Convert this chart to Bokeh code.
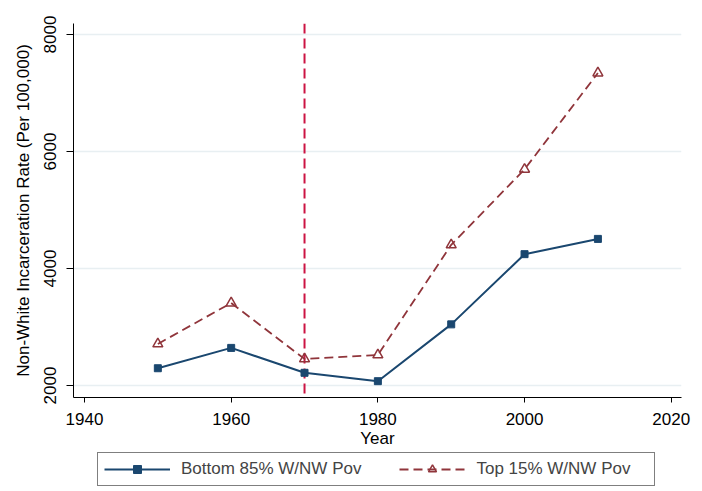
import math
from bokeh.plotting import figure
from bokeh.layouts import column
from bokeh.models import Range1d, FixedTicker, Span, Legend, LegendItem
from bokeh.embed import file_html
from bokeh.resources import INLINE

years = [1950, 1960, 1970, 1980, 1990, 2000, 2010]
bottom85 = [2295, 2643, 2217, 2074, 3045, 4245, 4506]
top15 = [2711, 3410, 2455, 2523, 4404, 5695, 7342]
x_ticks = [1940, 1960, 1980, 2000, 2020]
y_ticks = [2000, 4000, 6000, 8000]
policy_year = 1970
series_labels = ["Bottom 85% W/NW Pov", "Top 15% W/NW Pov"]

FONT = "Liberation Sans"
FS = "17px"
BLUE = "#1a476f"
RED = "#90353b"
RED_DASH = "9 5"

p = figure(frame_width=608, frame_height=374,
           x_range=Range1d(1938.5, 2021.4), y_range=Range1d(1795, 8188),
           output_backend="svg", toolbar_location=None,
           min_border_left=73, min_border_right=21,
           min_border_top=23, min_border_bottom=54)
p.outline_line_color = None
p.background_fill_color = "white"
p.border_fill_color = "white"

p.xgrid.visible = False
p.ygrid.grid_line_color = "#e8eff2"
p.ygrid.grid_line_width = 1.5
p.ygrid.ticker = FixedTicker(ticks=y_ticks)

for ax in (p.xaxis[0], p.yaxis[0]):
    ax.axis_line_color = "black"
    ax.axis_line_width = 1
    ax.major_tick_line_color = "black"
    ax.major_tick_in = 0
    ax.minor_tick_line_color = None
    ax.major_label_text_font = FONT
    ax.major_label_text_font_size = FS
    ax.major_label_text_color = "black"
    ax.axis_label_text_font = FONT
    ax.axis_label_text_font_size = FS
    ax.axis_label_text_font_style = "normal"
    ax.axis_label_text_color = "black"

p.xaxis.ticker = FixedTicker(ticks=x_ticks)
p.xaxis.major_tick_out = 5
p.xaxis.major_label_standoff = 10
p.xaxis.axis_label = "Year"
p.xaxis.axis_label_standoff = 1

p.yaxis.ticker = FixedTicker(ticks=y_ticks)
p.yaxis.major_tick_out = 7
p.yaxis.major_label_orientation = "parallel"
p.yaxis.major_label_standoff = 10
p.yaxis.axis_label = "Non-White Incarceration Rate (Per 100,000)"
p.yaxis.axis_label_standoff = 9

span = Span(location=policy_year, dimension="height", line_color="#cc1443",
            line_width=2, line_dash="10 5", level="underlay")
p.add_layout(span)

p.line(years, bottom85, line_color=BLUE, line_width=2)
p.scatter(years, bottom85, marker="square", size=7, fill_color=BLUE,
          line_color=BLUE)
p.line(years, top15, line_color=RED, line_width=1.8, line_dash=RED_DASH)
p.scatter(years, top15, marker="triangle", size=10, fill_color=None,
          line_color=RED, line_width=1.5)

# legend strip below the chart (its glyphs lie outside its visible range)
q = figure(width=702, height=40, x_range=Range1d(0, 1), y_range=Range1d(0, 1),
           output_backend="svg", toolbar_location=None,
           x_axis_location=None, y_axis_location=None,
           min_border_left=73, min_border_right=21,
           min_border_top=0, min_border_bottom=0)
q.outline_line_color = None
q.grid.visible = False
q.border_fill_color = "white"
q.background_fill_color = "white"
ql1 = q.line(years, bottom85, line_color=BLUE, line_width=2)
qs1 = q.scatter(years, bottom85, marker="square", size=7, fill_color=BLUE,
                line_color=BLUE)
ql2 = q.line(years, top15, line_color=RED, line_width=1.8, line_dash=RED_DASH)
qs2 = q.scatter(years, top15, marker="triangle", size=10, fill_color=None,
                line_color=RED, line_width=1.5)

legend = Legend(items=[LegendItem(label=series_labels[0], renderers=[ql1, qs1]),
                       LegendItem(label=series_labels[1], renderers=[ql2, qs2])],
                orientation="horizontal", location=(24, 5),
                glyph_width=66, glyph_height=20, label_standoff=11,
                spacing=38, padding=6, margin=0,
                label_width=172, label_height=20,
                label_text_font=FONT, label_text_font_size=FS,
                border_line_color="black", border_line_width=1,
                background_fill_color="white", background_fill_alpha=1)
q.add_layout(legend)

layout = column(p, q)
open("out.html", "w").write(file_html(layout, INLINE))
